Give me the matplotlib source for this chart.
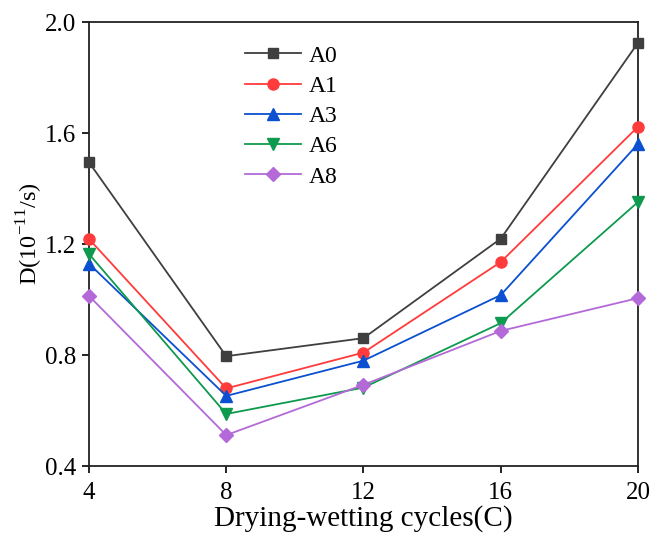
import matplotlib
matplotlib.use("Agg")
import matplotlib.pyplot as plt

cycles = [4, 8, 12, 16, 20]
series_names = ["A0", "A1", "A3", "A6", "A8"]
a0 = [1.495, 0.797, 0.862, 1.220, 1.925]
a1 = [1.219, 0.681, 0.810, 1.136, 1.623]
a3 = [1.130, 0.654, 0.781, 1.017, 1.561]
a6 = [1.165, 0.589, 0.684, 0.916, 1.352]
a8 = [1.014, 0.513, 0.694, 0.888, 1.006]
y_ticks = [0.4, 0.8, 1.2, 1.6, 2.0]

colors = ["#3f3f3f", "#ff3b3b", "#0a50d0", "#0e9a4e", "#b36ad8"]
markers = ["s", "o", "^", "v", "D"]
msizes = [7, 8, 8.5, 8.5, 7]

plt.rcParams["font.family"] = ["Liberation Serif", "DejaVu Serif"]
plt.rcParams["mathtext.fontset"] = "custom"
plt.rcParams["mathtext.rm"] = "Liberation Serif"

fig = plt.figure(figsize=(6.51, 5.33), dpi=100)
ax = fig.add_axes([0.1367, 0.1248, 0.8433, 0.8339])

for name, vals, c, m, ms in zip(series_names, [a0, a1, a3, a6, a8], colors, markers, msizes):
    ax.plot(cycles, vals, color=c, marker=m, markersize=ms, linewidth=1.3,
            label=name, clip_on=False, zorder=3)

ax.set_xlim(4, 20)
ax.set_ylim(0.4, 2.0)
ax.set_xticks(cycles)
ax.set_yticks(y_ticks)
ax.set_yticklabels([f"{v:.1f}" for v in y_ticks])
ax.tick_params(direction="out", length=5, width=1.2, labelsize=18, pad=4)
ax.tick_params(axis="x", pad=6)
for side in ["left", "right", "top", "bottom"]:
    ax.spines[side].set_linewidth(1.3)
    ax.spines[side].set_color("#222222")

ax.set_xlabel("Drying-wetting cycles(C)", fontsize=21, labelpad=1)
ax.set_ylabel(r"D(10$^{-11}$/s)", fontsize=17.5)
ax.yaxis.set_label_coords(-0.08, 0.523)

ax.legend(loc="upper left", bbox_to_anchor=(0.259, 0.98), frameon=False,
          fontsize=17, handlelength=2.37, labelspacing=0.37, handletextpad=0.3,
          borderaxespad=0.2)

fig.savefig("out.png", dpi=100)
